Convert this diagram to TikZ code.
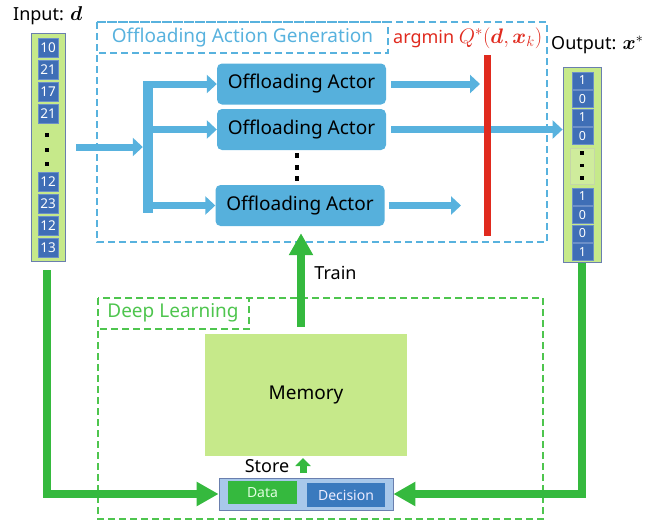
\RequirePackage{fix-cm}
\documentclass[tikz,border=0pt]{standalone}
\usepackage{amsmath,bm}
\usepackage{fontspec}
\setmainfont{Noto Sans}
\usetikzlibrary{arrows.meta}
\definecolor{lblue}{HTML}{58B2DE}
\definecolor{actor}{HTML}{56B0DC}
\definecolor{ared}{HTML}{E02A1E}
\definecolor{agreen}{HTML}{35B93E}
\definecolor{dgreen}{HTML}{4EC54E}
\definecolor{mem}{HTML}{C6E98A}
\definecolor{cellb}{HTML}{3F6EB6}
\definecolor{cellbd}{HTML}{6C8FC8}
\definecolor{colborder}{HTML}{6A7FAE}
\definecolor{dbox}{HTML}{A8C8EA}
\definecolor{dec}{HTML}{3A7ABE}
\tikzset{
  fs/.style={font=\fontsize{#1}{#1}\selectfont},
  incell/.style={draw=cellbd, line width=0.8pt, fill=cellb, text=white, fs=13.5, minimum width=20pt, minimum height=19pt, inner sep=0pt},
  outcell/.style={draw=cellbd, line width=0.8pt, fill=cellb, text=white, fs=12.5, minimum width=21pt, minimum height=17pt, inner sep=0pt},
  column/.style={draw=colborder, line width=0.8pt, fill=mem, inner sep=0pt},
  dot/.style={fill=black, minimum width=4pt, minimum height=4pt, inner sep=0pt},
  actorbox/.style={rounded corners=5pt, fill=actor, minimum width=169pt, minimum height=41pt, inner sep=0pt, fs=19},
  barrow/.style={draw=lblue, line width=7pt, -{Triangle[width=18pt,length=10pt]}},
  garrow/.style={draw=agreen, line width=8pt, -{Triangle[width=23pt,length=22pt]}},
  bluedash/.style={draw=lblue, line width=1.2pt, dash pattern=on 7pt off 4pt},
  greendash/.style={draw=dgreen, line width=1.2pt, dash pattern=on 7pt off 4pt},
  lbl/.style={fs=18, inner sep=0pt}
}
\begin{document}
\begin{tikzpicture}[x=1pt,y=-1pt]
\useasboundingbox (0,0) rectangle (659,520);
% dashed frames
\draw[bluedash] (97,22) rectangle (547,242);
\draw[bluedash] (97,22) rectangle (388,53);
\node[fs=19, text=lblue, inner sep=0pt] (oagt) at (242.5,38) {Offloading Action Generation};
\draw[greendash] (98,298) rectangle (543,519);
\draw[greendash] (98,298) rectangle (249,329);
\node[fs=19, text=dgreen, inner sep=0pt] (dlt) at (173,313) {Deep Learning};

% input column
\node[lbl, anchor=west] (inlbl) at (13,16) {Input: {\fontsize{20}{20}\selectfont$\bm{d}$}};
\node[column, minimum width=34pt, minimum height=228pt] (incol) at (48,147) {};
\node[incell] (i1) at (48,47.5) {10};
\node[incell] (i2) at (48,69.5) {21};
\node[incell] (i3) at (48,91.5) {17};
\node[incell] (i4) at (48,113.5) {21};
\node[dot] (id1) at (47,135) {};
\node[dot] (id2) at (47,149.5) {};
\node[dot] (id3) at (47,164) {};
\node[incell] (i5) at (48,181.5) {12};
\node[incell] (i6) at (48,203.5) {23};
\node[incell] (i7) at (48,225.5) {12};
\node[incell] (i8) at (48,247.5) {13};

% output column
\node[lbl, anchor=west] (outlbl) at (551,45) {Output: {\fontsize{20}{20}\selectfont$\bm{x}^*$}};
\node[column, minimum width=38pt, minimum height=195pt] (outcol) at (582,164.5) {};
\node[outcell] (o1) at (582.5,80.5) {1};
\node[outcell] (o2) at (582.5,99) {0};
\node[outcell] (o3) at (582.5,117.5) {1};
\node[outcell] (o4) at (582.5,136) {0};
\node[draw=mem!80!black!60, fill=mem!85!white, minimum width=24pt, minimum height=36pt, inner sep=0pt] (odots) at (582.5,166) {};
\node[dot, minimum width=3.5pt, minimum height=3.5pt] (od1) at (582,153) {};
\node[dot, minimum width=3.5pt, minimum height=3.5pt] (od2) at (582,165.5) {};
\node[dot, minimum width=3.5pt, minimum height=3.5pt] (od3) at (582,178) {};
\node[outcell] (o5) at (582.5,196.5) {1};
\node[outcell] (o6) at (582.5,215) {0};
\node[outcell] (o7) at (582.5,233.5) {0};
\node[outcell] (o8) at (582.5,252) {1};

% actors
\node[actorbox] (a1) at (301.5,84) {Offloading Actor};
\node[actorbox] (a2) at (301.5,129.5) {Offloading Actor};
\node[actorbox] (a3) at (300,205.5) {Offloading Actor};
\node[dot, minimum height=5pt] (ad1) at (297,155.5) {};
\node[dot, minimum height=5pt] (ad2) at (297,167) {};
\node[dot, minimum height=5pt] (ad3) at (297,178) {};

% branch
\node[fill=lblue, minimum width=10pt, minimum height=132pt, inner sep=0pt] (bar) at (148,147) {};
\draw[barrow] ([xshift=11pt]incol.east) -- (bar.west);
\draw[barrow] (bar.center |- a1.west) -- (a1.west);
\draw[barrow] (bar.center |- a2.west) -- (a2.west);
\draw[barrow] (bar.center |- a3.west) -- (a3.west);

% outputs of actors
\coordinate (e1) at (480,84);
\coordinate (e3) at (461,205.5);
\draw[barrow] ([xshift=5pt]a1.east) -- (e1);
\draw[barrow] ([xshift=5pt]a2.east) -- (outcol.west |- a2.east);
\draw[barrow] ([xshift=4pt]a3.east) -- (e3);

% red argmin bar
\node[fill=ared, minimum width=7pt, minimum height=181pt, inner sep=0pt] (redbar) at (487.5,145.5) {};
\node[lbl, anchor=west, text=ared] (argl) at (393,38) {argmin {\fontsize{21}{21}\selectfont$Q^*(\bm{d},\bm{x}_k)$}};

% memory
\node[fill=mem, minimum width=202pt, minimum height=122pt, inner sep=0pt, fs=19] (mem) at (306,395) {Memory};
\draw[garrow] ([xshift=-5pt,yshift=7pt]mem.north) -- ([xshift=-5pt,yshift=-7pt]mem.north |- a3.south);
\node[lbl] (train) at (335.5,273) {Train};

% data / decision
\node[draw=colborder, line width=0.8pt, fill=dbox, minimum width=174pt, minimum height=32pt, inner sep=0pt] (dd) at (306,494) {};
\node[fill=agreen, text=white!88!green, minimum width=69pt, minimum height=23pt, inner sep=0pt, fs=14] (data) at (262.5,492.5) {Data};
\node[fill=dec, text=white!92!blue, minimum width=78pt, minimum height=24pt, inner sep=0pt, fs=14] (decision) at (346,495) {Decision};
\node[lbl] (store) at (267,466) {Store};
\coordinate (st0) at (303,473);
\coordinate (st1) at (303,458);
\draw[draw=agreen, line width=7pt, -{Triangle[width=15pt,length=8pt]}] (st0) -- (st1);

% green connectors
\draw[garrow] ([xshift=-1pt,yshift=-9pt]incol.south) |- (dd.west);
\draw[garrow] ([yshift=-1pt]outcol.south) |- (dd.east);
\end{tikzpicture}
\end{document}
